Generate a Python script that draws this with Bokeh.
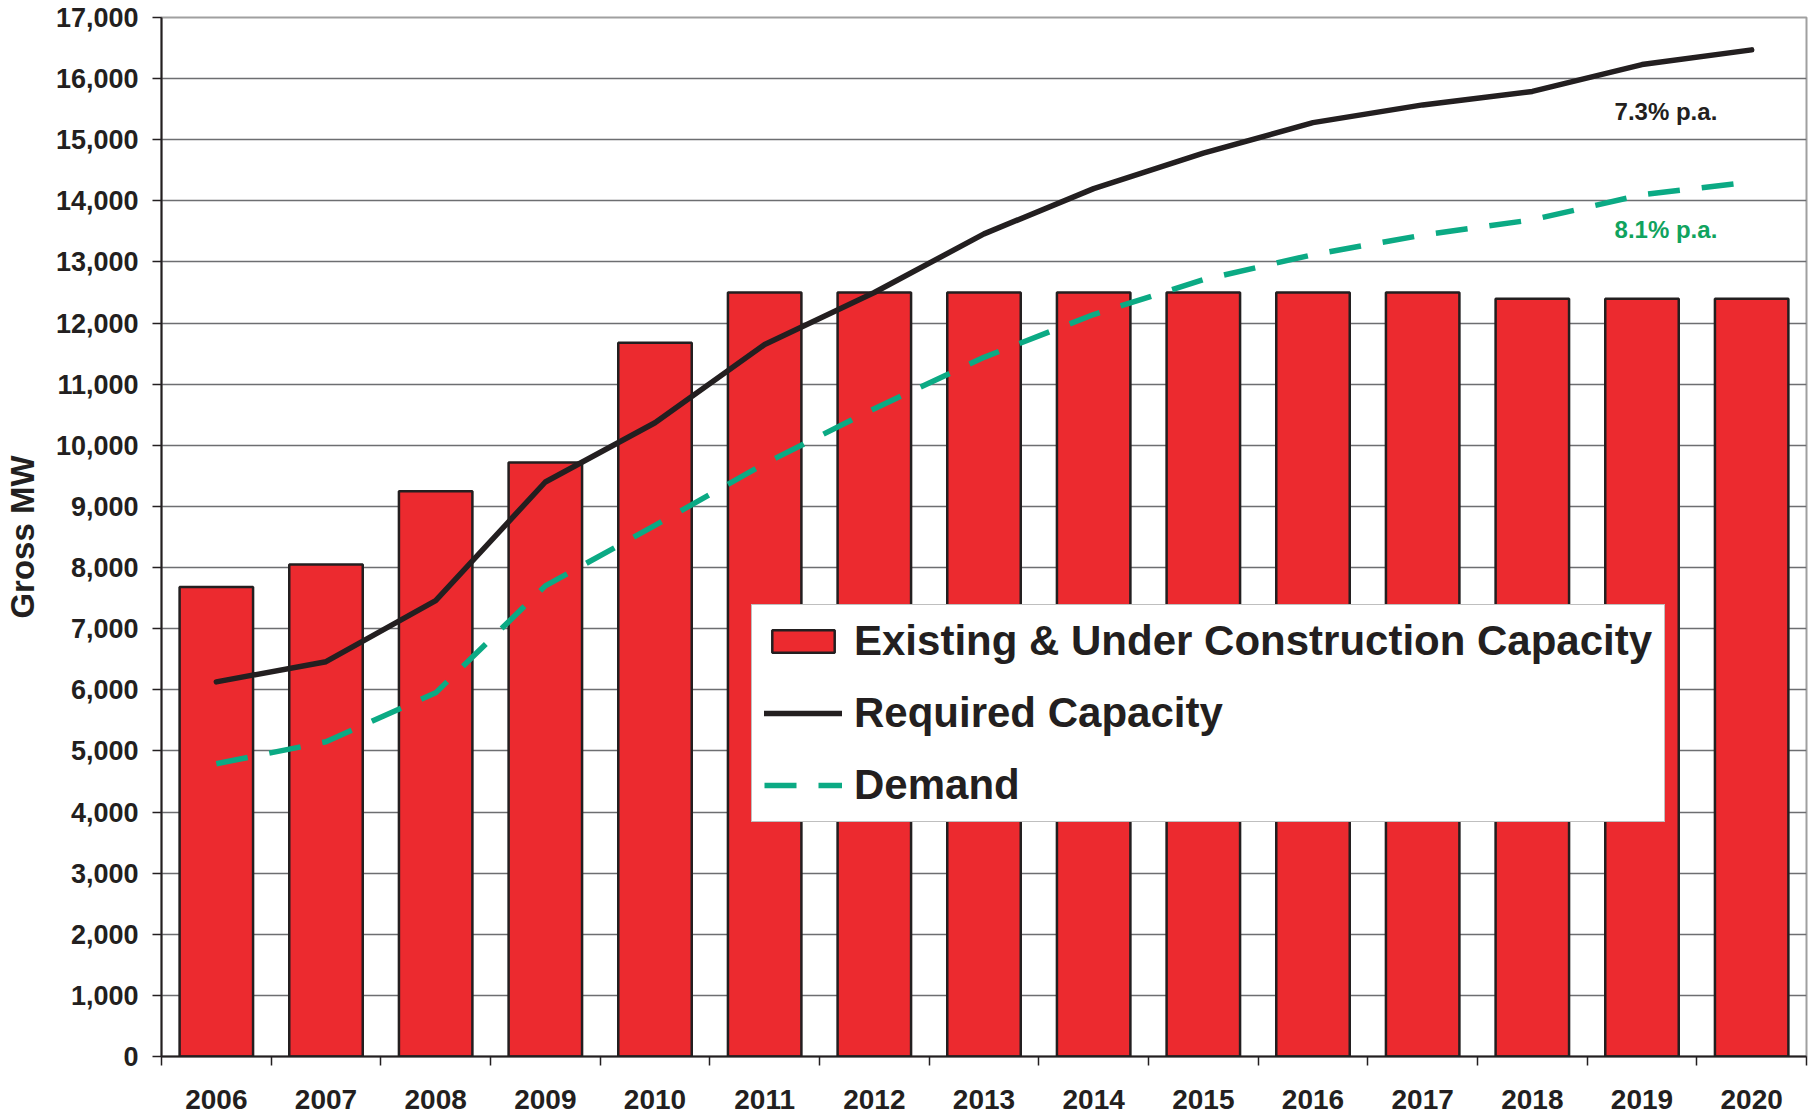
from bokeh.plotting import figure
from bokeh.models import (FixedTicker, Legend, LegendItem, Label, Range1d,
                          NumeralTickFormatter)
from bokeh.embed import file_html
from bokeh.resources import INLINE

# ---------------- data ----------------
years = ["2006", "2007", "2008", "2009", "2010", "2011", "2012", "2013",
         "2014", "2015", "2016", "2017", "2018", "2019", "2020"]
existing_capacity = [7680, 8050, 9250, 9720, 11680, 12500, 12500, 12500,
                     12500, 12500, 12500, 12500, 12400, 12400, 12400]
required_capacity = [6130, 6460, 7460, 9400, 10370, 11650, 12500, 13460,
                     14200, 14780, 15280, 15570, 15790, 16230, 16470]
demand = [4790, 5150, 5950, 7700, 8690, 9700, 10600, 11440,
          12140, 12710, 13120, 13440, 13690, 14100, 14310]
y_ticks = list(range(0, 17001, 1000))
growth_labels = ["7.3% p.a.", "8.1% p.a."]
growth_label_y = [15465, 13526]
growth_label_x = 12.75

idx = list(range(len(years)))

FONT = "Liberation Sans"
DARK = "#231F20"
RED = "#EC2A2F"
GREEN = "#0BAA84"
GREEN_TEXT = "#10A35E"

p = figure(width=1810, height=1114, output_backend="svg", toolbar_location=None,
           x_range=Range1d(-0.5, len(years) - 0.5), y_range=Range1d(0, 17000),
           min_border_left=158, min_border_right=4, min_border_top=17,
           min_border_bottom=58, background_fill_color="white",
           border_fill_color="white")

bars = p.vbar(x=idx, top=existing_capacity, width=0.67, fill_color=RED,
              line_color=DARK, line_width=2.5)
req = p.line(idx, required_capacity, line_color=DARK, line_width=5.5,
             line_join="round", line_cap="round")
dem = p.line(idx, demand, line_color=GREEN, line_width=5.5, line_dash="32 22")

# grid
p.xgrid.visible = False
p.ygrid.ticker = FixedTicker(ticks=y_ticks)
p.ygrid.grid_line_color = "#6D6E71"
p.ygrid.grid_line_width = 1.5

p.outline_line_color = "#A0A0A0"
p.outline_line_width = 2

# y axis
p.yaxis.ticker = FixedTicker(ticks=y_ticks)
p.yaxis.formatter = NumeralTickFormatter(format="0,0")
p.yaxis.major_tick_out = 9
p.yaxis.major_tick_in = 0
p.yaxis.minor_tick_out = 0
p.yaxis.minor_tick_in = 0
p.yaxis.major_label_standoff = 14
p.yaxis.axis_label = "Gross MW"
p.yaxis.axis_label_standoff = 12
p.yaxis.axis_label_text_font_size = "33px"

# x axis
p.xaxis.ticker = FixedTicker(ticks=idx, minor_ticks=[i - 0.5 for i in range(len(years) + 1)])
p.xaxis.major_label_overrides = {i: y for i, y in zip(idx, years)}
p.xaxis.major_tick_out = 0
p.xaxis.major_tick_in = 0
p.xaxis.minor_tick_out = 9
p.xaxis.minor_tick_in = 0
p.xaxis.major_label_standoff = 24

for ax in (p.xaxis, p.yaxis):
    ax.axis_line_color = DARK
    ax.axis_line_width = 2
    ax.major_tick_line_color = DARK
    ax.major_tick_line_width = 1.5
    ax.minor_tick_line_color = DARK
    ax.minor_tick_line_width = 1.5
    ax.major_label_text_font = FONT
    ax.major_label_text_font_style = "bold"
    ax.major_label_text_font_size = "27px"
    ax.major_label_text_color = DARK
    ax.axis_label_text_font = FONT
    ax.axis_label_text_font_style = "bold"
    ax.axis_label_text_color = DARK
p.xaxis.major_label_text_font_size = "28px"

# growth annotations
for txt, yv, col in zip(growth_labels, growth_label_y, [DARK, GREEN_TEXT]):
    p.add_layout(Label(x=growth_label_x, y=yv, text=txt, text_font=FONT,
                       text_font_style="bold", text_font_size="24px",
                       text_color=col, text_align="left",
                       text_baseline="alphabetic"))

legend = Legend(items=[
    LegendItem(label="Existing & Under Construction Capacity", renderers=[bars]),
    LegendItem(label="Required Capacity", renderers=[req]),
    LegendItem(label="Demand", renderers=[dem]),
], location=(590, 234), margin=0, padding=12, spacing=24,
    glyph_width=78, glyph_height=28, label_standoff=12, label_height=48,
    label_text_font=FONT, label_text_font_style="bold",
    label_text_font_size="42px", label_text_color=DARK,
    border_line_color="#808080", border_line_width=1.5,
    background_fill_color="white", background_fill_alpha=1.0)
p.add_layout(legend)

open("out.html", "w").write(file_html(p, INLINE))
